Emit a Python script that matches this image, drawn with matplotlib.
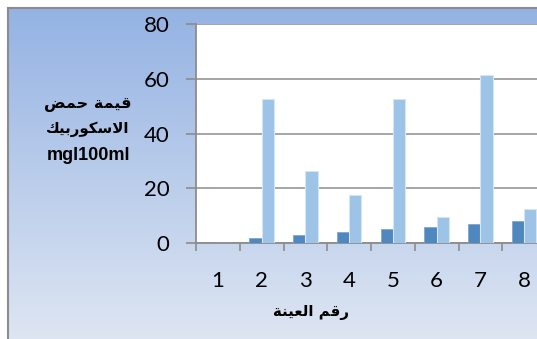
import numpy as np
import matplotlib
matplotlib.use("Agg")
import matplotlib.pyplot as plt
from matplotlib.lines import Line2D

# ---- data ----
categories = ["1", "2", "3", "4", "5", "6", "7", "8"]
series_dark = [0, 2, 3, 4, 5, 6, 7, 8]
series_light = [0, 52.7, 26.3, 17.5, 52.7, 9.6, 61.5, 12.3]
y_ticks = [0, 20, 40, 60, 80]
ylabel_lines = ["قيمة حمض", "الاسكوربيك", "mgl100ml"]
xlabel_text = "رقم العينة"

# ---- minimal Arabic shaping (presentation forms + visual order) ----
FORMS = {
    'ا': (0xFE8D, 0xFE8E, 0xFE8D, 0xFE8E),
    'ب': (0xFE8F, 0xFE90, 0xFE91, 0xFE92),
    'ة': (0xFE93, 0xFE94, 0xFE93, 0xFE94),
    'ح': (0xFEA1, 0xFEA2, 0xFEA3, 0xFEA4),
    'ر': (0xFEAD, 0xFEAE, 0xFEAD, 0xFEAE),
    'س': (0xFEB1, 0xFEB2, 0xFEB3, 0xFEB4),
    'ض': (0xFEBD, 0xFEBE, 0xFEBF, 0xFEC0),
    'ع': (0xFEC9, 0xFECA, 0xFECB, 0xFECC),
    'ق': (0xFED5, 0xFED6, 0xFED7, 0xFED8),
    'ك': (0xFED9, 0xFEDA, 0xFEDB, 0xFEDC),
    'ل': (0xFEDD, 0xFEDE, 0xFEDF, 0xFEE0),
    'م': (0xFEE1, 0xFEE2, 0xFEE3, 0xFEE4),
    'ن': (0xFEE5, 0xFEE6, 0xFEE7, 0xFEE8),
    'و': (0xFEED, 0xFEEE, 0xFEED, 0xFEEE),
    'ي': (0xFEF1, 0xFEF2, 0xFEF3, 0xFEF4),
    'LA': (0xFEFB, 0xFEFC, 0xFEFB, 0xFEFC),
}
DUAL = set("بتثجحخسشصضطظعغفقكلمنهيئ")


def shape(text):
    if not any(c in FORMS for c in text):
        return text
    merged = []
    i = 0
    while i < len(text):
        if text[i] == 'ل' and i + 1 < len(text) and text[i + 1] == 'ا':
            merged.append('LA')
            i += 2
        else:
            merged.append(text[i])
            i += 1
    out = []
    for k, c in enumerate(merged):
        if c not in FORMS:
            out.append(c)
            continue
        prev = merged[k - 1] if k > 0 else None
        nxt = merged[k + 1] if k + 1 < len(merged) else None
        jp = prev is not None and prev in DUAL
        jn = c in DUAL and nxt is not None and nxt in FORMS
        f = FORMS[c]
        if jp and jn:
            g = f[3]
        elif jp:
            g = f[1]
        elif jn:
            g = f[2]
        else:
            g = f[0]
        out.append(chr(g))
    return ''.join(reversed(out))


W, H = 537, 339
fig = plt.figure(figsize=(W / 100, H / 100), dpi=100)
fig.patch.set_facecolor("white")

# gradient chart-area background
bg = fig.add_axes([8 / W, 0, 1 - 8 / W, 1 - 8 / H], zorder=0)
top_c = np.array([0.58, 0.70, 0.89])
bot_c = np.array([0.87, 0.90, 0.95])
t = np.linspace(0, 1, 256)[:, None]
grad = (1 - t) * top_c + t * bot_c
bg.imshow(grad[:, None, :], aspect="auto", extent=[0, 1, 0, 1])
bg.set_axis_off()

# border lines
fig.add_artist(Line2D([8 / W, 1], [1 - 8 / H, 1 - 8 / H], color="#8c8c8c", lw=1.5,
                      transform=fig.transFigure, zorder=5))
fig.add_artist(Line2D([8 / W, 8 / W], [0, 1 - 8 / H], color="#8c8c8c", lw=1.5,
                      transform=fig.transFigure, zorder=5))

# plot area
left_px, right_px, top_px, bot_px = 196, 546, 24, 243
ax = fig.add_axes([left_px / W, 1 - bot_px / H, (right_px - left_px) / W,
                   (bot_px - top_px) / H], zorder=2)
ax.set_facecolor("white")

x = np.arange(len(categories))
bw = 0.28
ax.bar(x - bw / 2, series_dark, width=bw, color="#4F88BE", edgecolor="#7FA7D2",
       linewidth=0.6, zorder=3)
ax.bar(x + bw / 2, series_light, width=bw, color="#9DC3E6", edgecolor="#D4E5F5",
       linewidth=0.8, zorder=3)

ax.set_xlim(-0.5, len(categories) - 0.5)
ax.set_ylim(0, 80)
ax.set_yticks(y_ticks)
ax.set_yticklabels([str(v) for v in y_ticks], fontfamily="Lato", fontsize=16)
ax.yaxis.grid(True, color="#9e9e9e", linewidth=1.3, zorder=1)
ax.set_axisbelow(True)
ax.tick_params(axis="y", direction="out", length=7, width=1.2, color="#8c8c8c",
               pad=12, labelcolor="black")

ax.set_xticks(np.arange(len(categories) + 1) - 0.5)
ax.set_xticklabels([])
ax.set_xticks(x, minor=True)
ax.set_xticklabels(categories, minor=True, fontfamily="Lato", fontsize=16)
ax.tick_params(axis="x", which="major", direction="out", length=6, width=1.2,
               color="#8c8c8c")
ax.tick_params(axis="x", which="minor", length=0, pad=20)

for s in ["top", "right"]:
    ax.spines[s].set_visible(False)
for s in ["left", "bottom"]:
    ax.spines[s].set_color("#8c8c8c")
    ax.spines[s].set_linewidth(1.3)

# y label lines
ys = [104, 129, 155]
sizes = [11.5, 10.8, 13]
for txt, yy, fs in zip(ylabel_lines, ys, sizes):
    fam = ["DejaVu Sans"] if any(c in FORMS for c in txt) else ["Liberation Sans"]
    fig.text(88 / W, 1 - yy / H, shape(txt), ha="center", va="center",
             fontsize=fs, fontweight="bold", family=fam, zorder=6)

fig.text(311 / W, 1 - 313 / H, shape(xlabel_text), ha="center", va="center",
         fontsize=10.8, fontweight="bold", family=["DejaVu Sans"], zorder=6)

fig.savefig("out.png", dpi=100)
